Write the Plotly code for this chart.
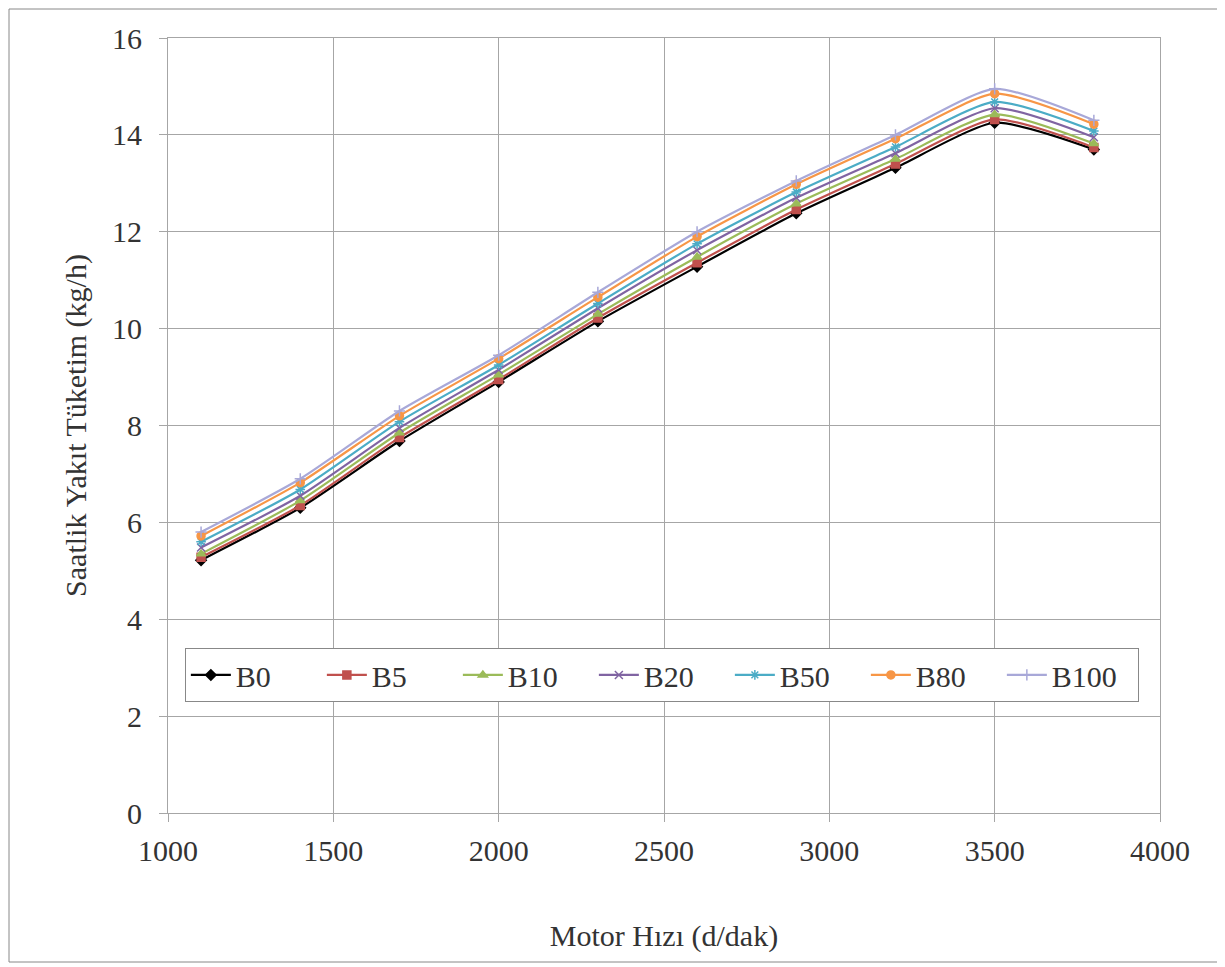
import plotly.graph_objects as go

speed = [1100, 1400, 1700, 2000, 2300, 2600, 2900, 3200, 3500, 3800]

B0   = [5.22, 6.30, 7.68, 8.90, 10.15, 11.28, 12.38, 13.32, 14.25, 13.70]
B5   = [5.28, 6.35, 7.75, 8.95, 10.22, 11.36, 12.46, 13.40, 14.32, 13.74]
B10  = [5.35, 6.45, 7.85, 9.05, 10.30, 11.48, 12.58, 13.50, 14.42, 13.82]
B20  = [5.48, 6.55, 7.95, 9.15, 10.42, 11.62, 12.70, 13.62, 14.55, 13.95]
B50  = [5.60, 6.68, 8.08, 9.25, 10.52, 11.75, 12.82, 13.75, 14.68, 14.08]
B80  = [5.72, 6.82, 8.20, 9.38, 10.65, 11.90, 12.98, 13.92, 14.85, 14.22]
B100 = [5.80, 6.90, 8.30, 9.45, 10.75, 12.00, 13.05, 14.00, 14.95, 14.30]

names = ["B0", "B5", "B10", "B20", "B50", "B80", "B100"]
series = [B0, B5, B10, B20, B50, B80, B100]
colors = ["#000000", "#C0504D", "#9BBB59", "#8064A2", "#4BACC6", "#F79646", "#A8A8D8"]
symbols = ["diamond", "square", "triangle-up", "x-thin-open", "asterisk-open", "circle", "cross-thin-open"]

font = "Liberation Serif, Times New Roman, serif"

W, H = 1212, 955
ML, MR, MT, MB = 160, 60, 30, 150
PW, PH = W - ML - MR, H - MT - MB

fig = go.Figure()
for n, s, c, sym in zip(names, series, colors, symbols):
    fig.add_trace(go.Scatter(
        x=speed, y=s, name=n, mode="lines+markers",
        line=dict(color=c, width=2.2, shape="spline", smoothing=0.6),
        marker=dict(symbol=sym, size=8, color=c, line=dict(color=c, width=1.5)),
    ))

fig.update_layout(
    width=W, height=H,
    paper_bgcolor="white", plot_bgcolor="white",
    margin=dict(l=ML, r=MR, t=MT, b=MB),
    font=dict(family=font, size=30, color="#333333"),
    xaxis=dict(
        range=[1000, 4000], tickvals=[1000, 1500, 2000, 2500, 3000, 3500, 4000],
        showgrid=True, gridcolor="#A6A6A6", gridwidth=1,
        showline=True, linecolor="#A6A6A6", mirror=True,
        ticks="outside", ticklen=8, tickcolor="#A6A6A6",
        ticklabelstandoff=3,
        zeroline=False,
        title=dict(text="Motor Hızı (d/dak)", font=dict(size=30), standoff=58),
    ),
    yaxis=dict(
        range=[0, 16], tickvals=[0, 2, 4, 6, 8, 10, 12, 14, 16],
        showgrid=True, gridcolor="#A6A6A6", gridwidth=1,
        showline=True, linecolor="#A6A6A6", mirror=True,
        ticks="outside", ticklen=8, tickcolor="#A6A6A6",
        ticklabelstandoff=11,
        zeroline=False,
        title=dict(text="Saatlik Yakıt Tüketim (kg/h)", font=dict(size=30), standoff=16),
    ),
    legend=dict(
        orientation="h", x=0.017, y=0.213, xanchor="left", yanchor="top",
        bgcolor="white", bordercolor="#888888", borderwidth=1,
        font=dict(size=30), entrywidth=81, entrywidthmode="pixels",
        itemwidth=40, tracegroupgap=0,
    ),
    shapes=[dict(type="rect", xref="paper", yref="paper",
                 x0=(-ML + 1) / PW, x1=(PW + MR - 1) / PW,
                 y0=(-MB + 1) / PH, y1=(PH + MT - 1) / PH,
                 line=dict(color="#888888", width=1))],
)

fig.write_html("out.html")
